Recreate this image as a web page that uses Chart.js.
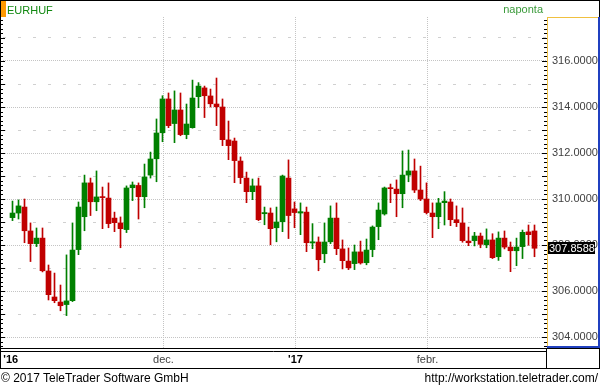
<!DOCTYPE html>
<html>
<head>
<meta charset="utf-8">
<script src="https://cdn.jsdelivr.net/npm/chart.js@4/dist/chart.umd.min.js"></script>
<style>
  body { margin: 0; background: #fff; }
  #wrap { position: relative; width: 600px; height: 387px; font-family: "Liberation Sans", Arial, sans-serif; }
  #wrap canvas { position: absolute; left: 0; top: 0; }
  .txt { position: absolute; white-space: nowrap; line-height: 12px; }
</style>
</head>
<body>
<div id="wrap">
  <canvas id="chart" width="600" height="387"></canvas>
  <div class="txt" style="left:7px;top:4px;font-size:11px;color:#118811">EURHUF</div>
  <div class="txt" style="right:57px;top:3px;font-size:11px;color:#3a9a3a">naponta</div>
  <div class="txt" style="left:1px;top:371px;font-size:12px;line-height:14px;color:#000">© 2017 TeleTrader Software GmbH</div>
  <div class="txt" style="right:2px;top:371px;font-size:12px;line-height:14px;color:#000">http://workstation.teletrader.com/</div>
</div>
<script>
// EURHUF daily candles, late Oct 2016 .. end of Feb 2017
const opens = [309.19, 309.39, 309.65, 308.61, 308.06, 308.30, 306.87, 305.74, 305.52, 305.41,
  305.58, 307.80, 309.23, 310.70, 309.88, 310.10, 310.04, 309.17, 308.96, 308.67,
  310.49, 310.59, 310.10, 311.04, 311.75, 312.88, 314.35, 313.28, 313.87, 312.80,
  313.10, 314.45, 314.83, 314.48, 314.13, 314.00, 312.57, 312.52, 311.65, 310.91,
  310.32, 310.57, 309.36, 309.39, 308.75, 309.01, 310.91, 309.57, 309.39, 309.43,
  308.09, 308.13, 307.62, 308.14, 309.17, 307.83, 307.30, 307.19, 307.70, 307.23,
  307.80, 308.80, 309.35, 310.48, 310.43, 310.23, 311.04, 311.22, 310.39, 310.00,
  309.39, 309.23, 309.84, 309.87, 309.10, 308.96, 308.17, 308.19, 308.39, 308.01,
  308.22, 307.49, 308.30, 307.91, 307.75, 307.93, 308.57, 308.61]
const highs = [309.91, 309.96, 310.00, 308.96, 308.74, 308.74, 307.13, 306.78, 306.26, 307.57,
  308.96, 309.87, 311.04, 310.91, 311.22, 310.52, 310.70, 309.43, 309.22, 310.57,
  310.74, 310.70, 311.52, 312.04, 313.48, 314.49, 314.61, 314.70, 314.61, 314.13,
  315.17, 315.06, 314.91, 314.78, 315.26, 314.35, 313.39, 312.65, 311.83, 311.17,
  310.87, 310.91, 309.65, 309.61, 309.65, 311.04, 311.70, 309.87, 309.83, 309.65,
  308.93, 308.35, 308.96, 309.70, 309.83, 308.22, 307.87, 308.00, 308.17, 308.26,
  308.83, 309.83, 310.52, 310.65, 310.83, 312.09, 312.13, 311.74, 311.43, 310.70,
  309.83, 310.03, 310.32, 310.00, 309.70, 309.61, 308.78, 308.55, 308.52, 308.70,
  308.49, 308.57, 308.61, 308.13, 308.30, 308.65, 308.87, 308.87]
const lows = [309.06, 309.13, 308.10, 307.28, 307.93, 306.83, 305.61, 305.49, 305.14, 304.93,
  305.54, 307.58, 308.62, 309.28, 309.49, 308.71, 308.75, 308.58, 307.88, 308.54,
  309.93, 309.13, 309.62, 310.91, 310.75, 312.49, 313.10, 312.45, 312.75, 312.62,
  313.08, 313.97, 313.54, 314.00, 313.19, 312.32, 311.71, 310.71, 310.67, 309.84,
  309.97, 309.06, 308.88, 308.01, 308.14, 308.58, 308.28, 308.75, 308.45, 307.71,
  307.84, 306.88, 307.23, 308.06, 307.58, 306.96, 306.93, 306.93, 307.17, 307.14,
  307.49, 308.23, 309.30, 309.84, 309.23, 309.62, 310.75, 310.28, 309.93, 309.35,
  308.32, 308.71, 308.87, 308.84, 308.80, 308.12, 307.97, 307.96, 307.88, 307.88,
  307.41, 307.33, 307.83, 306.84, 307.10, 307.41, 307.99, 307.49]
const closes = [309.39, 309.70, 308.62, 308.06, 308.30, 306.88, 305.84, 305.58, 305.36, 305.57,
  307.78, 309.65, 310.70, 309.88, 310.09, 310.06, 308.93, 308.97, 308.71, 310.48,
  310.61, 310.10, 310.96, 311.74, 312.87, 314.35, 313.19, 313.87, 312.80, 313.26,
  314.39, 314.91, 314.49, 314.14, 314.01, 312.58, 312.32, 311.67, 310.93, 310.32,
  310.57, 309.10, 309.41, 308.71, 309.00, 311.00, 309.28, 309.41, 309.45, 308.10,
  308.14, 307.36, 308.13, 309.17, 307.84, 307.32, 307.01, 307.70, 307.22, 307.78,
  308.78, 309.52, 310.48, 310.45, 310.23, 311.04, 311.22, 310.39, 310.00, 309.41,
  309.23, 309.83, 309.91, 309.10, 308.97, 308.19, 308.10, 308.39, 308.03, 308.22,
  307.45, 308.30, 307.91, 307.75, 307.91, 308.55, 308.45, 307.8588]

const xTickPos = [-0.3, 25.17, 47.17, 69.17]
const xTickLabels = ["'16", "dec.", "'17", "febr."]
const yTicks = [304, 306, 308, 310, 312, 314, 316]
const yMinorTicks = [305, 307, 309, 311, 313, 315, 317]

const family = '"Liberation Sans", Arial, sans-serif'
const colors = closes.map((c, i) => c >= opens[i] ? '#008000' : '#c00000')
const isYear = ctx => String(xTickLabels[ctx.index] || '').charAt(0) === "'"

const frame = {
  id: 'frame',
  afterDraw(chart) {
    const { ctx, chartArea: a, scales: { y } } = chart
    const W = chart.width, H = chart.height
    const line = (x1, y1, x2, y2, color) => {
      ctx.strokeStyle = color
      ctx.beginPath(); ctx.moveTo(x1, y1); ctx.lineTo(x2, y2); ctx.stroke()
    }
    ctx.save()
    ctx.lineWidth = 1
    // small ruler ticks on both sides of the plot
    for (let k = Math.ceil(y.min * 5); k <= Math.floor(y.max * 5); k++) {
      const py = Math.round(y.getPixelForValue(k / 5)) + 0.5
      const len = k % 5 === 0 ? 5 : 3
      line(0, py, len, py, '#000')
      line(a.right - len, py, a.right, py, '#000')
    }
    line(0, 0.5, W, 0.5, '#000')
    line(0.5, 0, 0.5, H - 18, '#000')
    line(W - 0.5, 0, W - 0.5, a.top, '#000')
    line(0, a.bottom + 0.5, W, a.bottom + 0.5, '#000')
    line(0, a.bottom + 3.5, a.right, a.bottom + 3.5, '#000')
    line(0, H - 18.5, W, H - 18.5, '#000')
    line(a.right - 0.5, a.bottom, a.right - 0.5, H - 18, '#000')
    line(W - 0.5, a.bottom, W - 0.5, H - 18, '#000')
    // right value panel
    line(a.right, a.top + 0.5, W - 2, a.top + 0.5, '#f0c040')
    line(a.right + 0.5, a.top, a.right + 0.5, a.bottom, '#f0c040')
    ctx.fillStyle = '#2040c0'
    ctx.fillRect(W - 2, a.top, 2, a.bottom - a.top)
    ctx.fillRect(a.right, a.bottom - 2, W - a.right, 2)
    ctx.fillStyle = '#ff9900'
    ctx.fillRect(1, 1, 5, 16)
    // last value box
    const last = closes[closes.length - 1]
    const py = Math.round(y.getPixelForValue(last))
    ctx.fillStyle = '#000'
    ctx.fillRect(a.right + 1, py - 6, 47, 12)
    ctx.fillStyle = '#fff'
    ctx.font = '11px ' + family
    ctx.textBaseline = 'middle'
    ctx.fillText(last.toFixed(4), a.right + 2, py + 0.5)
    ctx.restore()
  }
}

new Chart(document.getElementById('chart'), {
  type: 'bar',
  data: {
    datasets: [
      {
        label: 'body',
        data: opens.map((o, i) => ({ x: i, y: [o, closes[i]] })),
        backgroundColor: colors,
        barThickness: 5,
        minBarLength: 1,
        grouped: false
      },
      {
        label: 'wick',
        data: lows.map((l, i) => ({ x: i, y: [l, highs[i]] })),
        backgroundColor: colors,
        barThickness: 1,
        grouped: false
      }
    ]
  },
  options: {
    responsive: false,
    animation: false,
    layout: { padding: { left: 3, top: 17, right: 1, bottom: 0 } },
    plugins: { legend: { display: false }, tooltip: { enabled: false } },
    scales: {
      x: {
        type: 'linear',
        offset: false,
        min: -1.5833,
        max: 89.0833,
        afterBuildTicks: s => { s.ticks = xTickPos.map(v => ({ value: v })) },
        afterFit: s => { s.height = 39; s.paddingLeft = 0; s.paddingRight = 0 },
        ticks: {
          autoSkip: false,
          maxRotation: 0,
          padding: 5,
          callback: (v, i) => xTickLabels[i],
          font: ctx => ({ family: family, size: 11, weight: isYear(ctx) ? 'bold' : 'normal' }),
          color: ctx => isYear(ctx) ? '#000' : '#404040'
        },
        grid: {
          offset: false,
          color: ctx => ctx.tick && ctx.tick.value < 0 ? 'rgba(0,0,0,0)' : '#c4c4c4',
          drawTicks: false
        },
        border: { display: false, dash: [1, 1] }
      },
      y: {
        position: 'right',
        min: 303.522,
        max: 317.913,
        afterBuildTicks: s => { s.ticks = yTicks.map(v => ({ value: v })) },
        afterFit: s => { s.width = 52; s.paddingTop = 0; s.paddingBottom = 0 },
        ticks: {
          padding: 5,
          color: '#404040',
          font: { family: family, size: 11 },
          callback: v => v.toFixed(4)
        },
        grid: { color: '#c4c4c4', drawTicks: false },
        border: { display: false, dash: [1, 1] }
      },
      y2: {
        position: 'right',
        min: 303.522,
        max: 317.913,
        afterBuildTicks: s => { s.ticks = yMinorTicks.map(v => ({ value: v })) },
        afterFit: s => { s.width = 0; s.paddingTop = 0; s.paddingBottom = 0 },
        ticks: { display: false },
        grid: { color: '#d0d0d0', drawTicks: false },
        border: { display: false, dash: [3, 12] }
      }
    }
  },
  plugins: [frame]
})
</script>
</body>
</html>
